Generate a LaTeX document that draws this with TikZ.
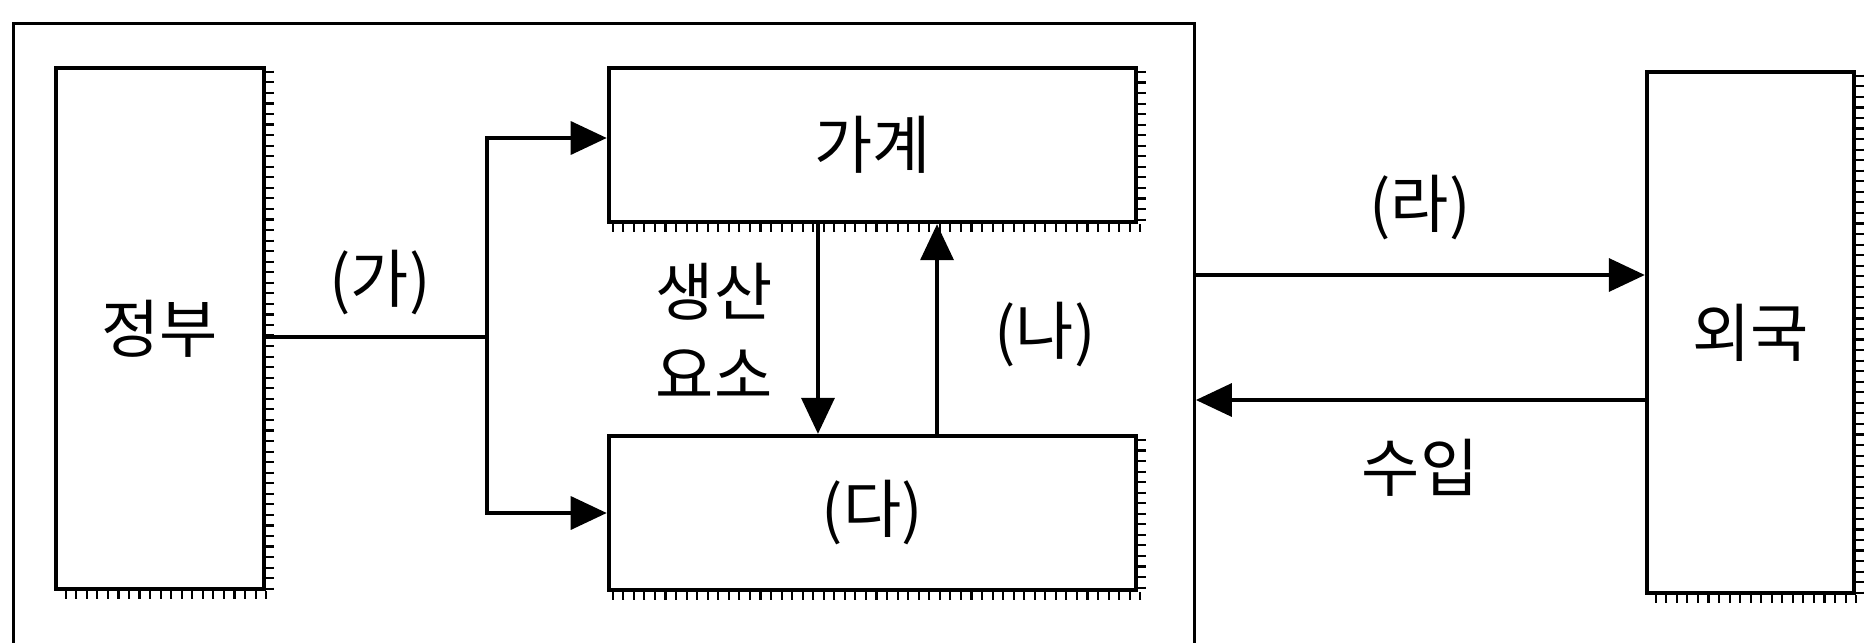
\documentclass[tikz,border=0pt]{standalone}
\usepackage{fontspec}
\newfontfamily\kfont{Noto Sans CJK KR}
\usetikzlibrary{arrows.meta,shapes}

\begin{document}
\begin{tikzpicture}[x=0.01cm,y=-0.01cm,>={Triangle[length=3.6mm,width=3.3mm]},
  every node/.style={font=\kfont\fontsize{18}{23.5}\selectfont},
  sector/.style={draw,line width=1.2pt,inner sep=0pt},
  flow/.style={line width=1pt},
  hatch/.style={line width=2.2pt,dash pattern=on 0.6pt off 2.4pt}]
  \useasboundingbox (0,0) rectangle (1866,642);
  \node[draw,line width=0.9pt,minimum width=11.8cm,minimum height=6.8cm,inner sep=0pt] (econ) at (604,364) {};
  \node[sector,minimum width=2.08cm,minimum height=5.21cm] (jeongbu) at (160,328.5) {정부};
  \node[sector,minimum width=5.27cm,minimum height=1.54cm] (gagye) at (872.5,145) {가계};
  \node[sector,minimum width=5.27cm,minimum height=1.54cm] (da) at (872.5,513) {(다)};
  \node[sector,minimum width=2.07cm,minimum height=5.21cm] (oeguk) at (1750.5,332.5) {외국};
  % shadow ticks
  \foreach \b in {jeongbu,gagye,da,oeguk}
    \draw[hatch] ([shift={(0.04cm,-0.05cm)}]\b.north east) -- ([shift={(0.04cm,-0.04cm)}]\b.south east) -- ([shift={(0.05cm,-0.04cm)}]\b.south west);
  \coordinate (split) at (487,337);
  \draw[flow] (jeongbu.east |- split) -- (split);
  \draw[flow,->] (split) |- ([yshift=0.07cm]gagye.west);
  \draw[flow,->] (split) |- (da.west);
  \draw[flow,->] ([xshift=-0.545cm]gagye.south) -- ([xshift=-0.545cm]da.north);
  \draw[flow,->] ([xshift=0.645cm]da.north) -- ([xshift=0.645cm]gagye.south);
  \draw[flow,->] (econ.east |- 0,275) -- (oeguk.west |- 0,275);
  \draw[flow,->] (oeguk.west |- 0,400) -- (econ.east |- 0,400);
  \node (ga) at (380,283) {(가)};
  \node[align=center] (factor) at (714,331) {생산\\요소};
  \node (na) at (1045,335) {(나)};
  \node (ra) at (1420,208) {(라)};
  \node (import) at (1420,468) {수입};
\end{tikzpicture}
\end{document}
